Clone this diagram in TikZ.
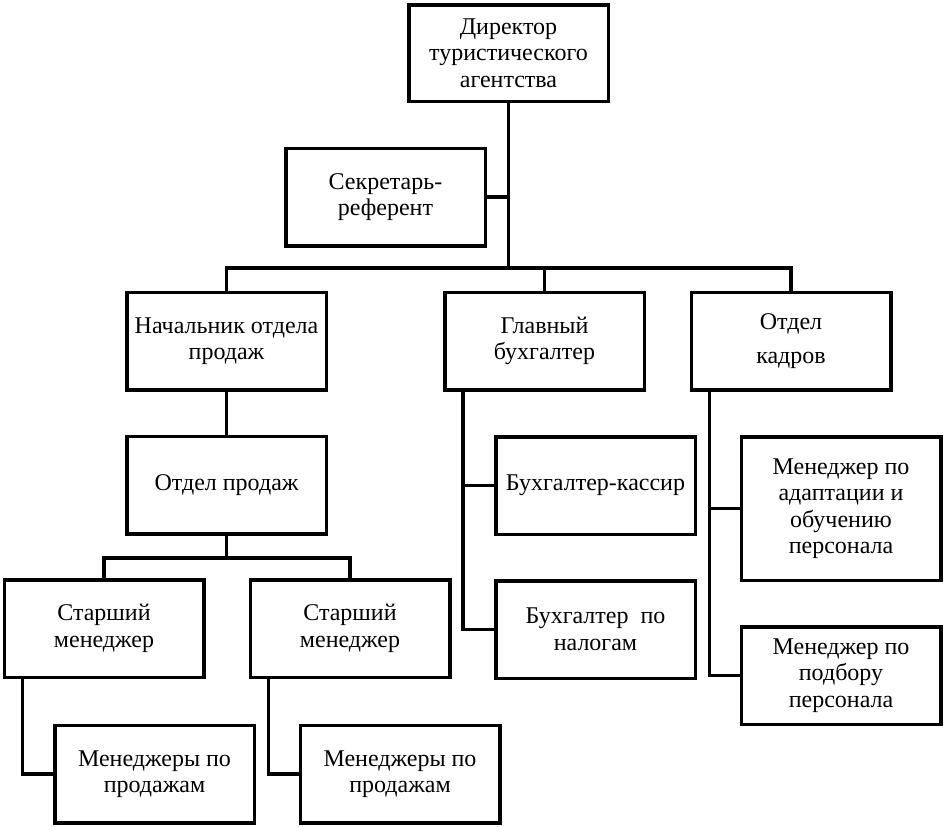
\documentclass[tikz,border=0pt]{standalone}
\usepackage{fontspec}
\setmainfont{Liberation Serif}
\usetikzlibrary{calc}
\begin{document}
\begin{tikzpicture}[x=1pt,y=1pt,
  box/.style={draw, line width=3.5pt, minimum width=199.5pt, minimum height=97.5pt, inner sep=1pt,
    align=center, font=\fontsize{24}{26.5}\selectfont},
  conn/.style={line width=3.5pt}]
\useasboundingbox (0,0) rectangle (945,-827);
\node[box, minimum height=96.5pt] (dir) at (508.5,-53) {Директор\\туристического\\агентства};
\node[box] (sec) at (385.5,-197) {Секретарь-\\референт};
\node[box] (nach) at (226.5,-341) {Начальник отдела\\продаж};
\node[box] (glav) at (544.5,-341) {Главный\\бухгалтер};
\node[box] (kadr) at (791,-341) {Отдел\\[8pt]кадров};
\node[box] (otdprod) at (226.5,-485) {Отдел продаж};
\node[box] (st1) at (104,-628.5) {Старший\\менеджер};
\node[box] (st2) at (350,-628.5) {Старший\\менеджер};
\node[box] (men1) at (154.5,-774) {Менеджеры по\\продажам};
\node[box] (men2) at (400,-774) {Менеджеры по\\продажам};
\node[box] (kass) at (595.5,-485.5) {Бухгалтер-кассир};
\node[box] (nalog) at (595.5,-629.5) {Бухгалтер\ \ по\\налогам};
\node[box, minimum height=143.5pt] (adapt) at (841,-508.5) {Менеджер по\\адаптации и\\обучению\\персонала};
\node[box] (podbor) at (841,-675.5) {Менеджер по\\подбору\\персонала};
\coordinate (bus1) at (508.5,-268);
\coordinate (bus2) at (226.5,-558);
\draw[conn] (dir.south) -- (bus1);
\draw[conn] (sec.east) -- (sec.east -| dir.south);
\draw[conn] (nach.north) |- (bus1) -| (kadr.north);
\draw[conn] (glav.north) -- (glav.north |- bus1);
\draw[conn] (nach.south) -- (otdprod.north);
\draw[conn] (otdprod.south) -- (bus2);
\draw[conn] (st1.north) |- (bus2) -| (st2.north);
\draw[conn] ([xshift=20pt]st1.south west) |- (men1.west);
\draw[conn] ([xshift=20pt]st2.south west) |- (men2.west);
\draw[conn] ([xshift=20pt]glav.south west) |- (nalog.west);
\draw[conn] ([xshift=20pt]glav.south west |- kass.west) -- (kass.west);
\draw[conn] ([xshift=20pt]kadr.south west) |- (podbor.west);
\draw[conn] ([xshift=20pt]kadr.south west |- adapt.west) -- (adapt.west);
\end{tikzpicture}
\end{document}
